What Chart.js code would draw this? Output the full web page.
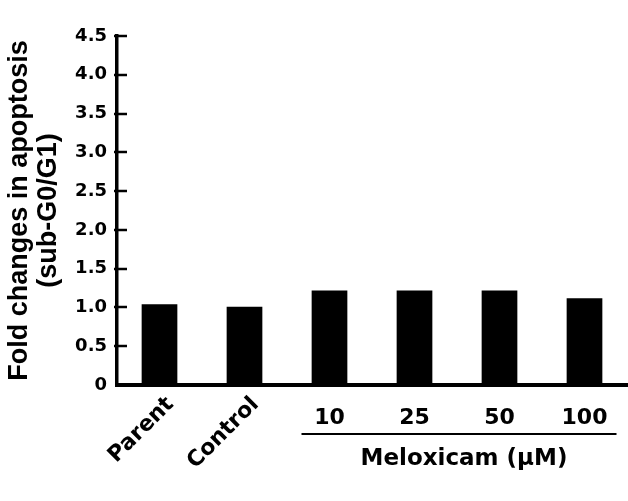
<!DOCTYPE html>
<html>
<head>
<meta charset="utf-8">
<script src="https://cdn.jsdelivr.net/npm/chart.js@4.4.1/dist/chart.umd.min.js"></script>
<style>
  body { margin: 0; background: #fff; }
  #wrap { width: 628px; height: 501px; }
</style>
</head>
<body>
<div id="wrap"><canvas id="apoptosisChart" width="628" height="501"></canvas></div>
<script>
// data
var categories = ["Parent", "Control", "10", "25", "50", "100"];
var foldChange = [1.04, 1.01, 1.22, 1.22, 1.22, 1.12];
var yTickLabels = ["0", "0.5", "1.0", "1.5", "2.0", "2.5", "3.0", "3.5", "4.0", "4.5"];
var yTitle = ["Fold changes in apoptosis", "(sub-G0/G1)"];
var groupLabel = "Meloxicam (\u03bcM)";
var groupStart = 2; // first Meloxicam dose

var tickFont = "'DejaVu Sans', sans-serif";

// draws inward y ticks, the x labels and the dose bracket
var axisExtras = {
    id: "axisExtras",
    afterDraw: function(chart) {
        var c = chart.ctx;
        var x = chart.scales.x;
        var y = chart.scales.y;
        var left = chart.chartArea.left;

        c.save();
        c.strokeStyle = "#000";
        c.lineWidth = 2.5;
        y.ticks.forEach(function(t) {
            if (t.value === 0) return;
            var py = Math.round(y.getPixelForValue(t.value));
            c.beginPath();
            c.moveTo(left - 3, py);
            c.lineTo(left + 10, py);
            c.stroke();
        });

        c.fillStyle = "#000";
        c.font = "bold 22px " + tickFont;
        categories.forEach(function(lab, i) {
            var px = x.getPixelForValue(i);
            if (i < groupStart) {
                c.save();
                c.translate(px + 11, 401);
                c.rotate(-Math.PI / 4);
                c.textAlign = "right";
                c.textBaseline = "middle";
                c.fillText(lab, 0, 0);
                c.restore();
            } else {
                c.textAlign = "center";
                c.textBaseline = "alphabetic";
                c.fillText(lab, px, 424);
            }
        });

        // bracket line under the doses
        var x0 = x.getPixelForValue(groupStart) - 28;
        var x1 = x.getPixelForValue(categories.length - 1) + 32;
        c.lineWidth = 2;
        c.beginPath();
        c.moveTo(x0, 434);
        c.lineTo(x1, 434);
        c.stroke();

        c.font = "bold 23px " + tickFont;
        c.textAlign = "center";
        c.fillText(groupLabel, (x0 + x1) / 2 + 5, 465);
        c.restore();
    }
};

var ctx = document.getElementById("apoptosisChart");

new Chart(ctx, {
    type: "bar",
    data: {
        labels: categories,
        datasets: [{
            data: foldChange,
            backgroundColor: "#000",
            borderWidth: 0,
            barPercentage: 0.42,
            categoryPercentage: 1.0
        }]
    },
    options: {
        responsive: false,
        animation: false,
        layout: {
            padding: { top: 36, right: 1, bottom: 0, left: 0 }
        },
        plugins: {
            legend: { display: false },
            tooltip: { enabled: false }
        },
        scales: {
            x: {
                grid: { display: false, drawTicks: false },
                border: { display: true, color: "#000", width: 4 },
                ticks: { display: false },
                afterFit: function(scale) { scale.height = 116; }
            },
            y: {
                min: 0,
                max: 4.5,
                grid: { display: false, drawTicks: false },
                border: { display: true, color: "#000", width: 3.5 },
                ticks: {
                    stepSize: 0.5,
                    padding: 10,
                    color: "#000",
                    font: { family: tickFont, size: 18, weight: "bold" },
                    callback: function(v, i) { return yTickLabels[i]; }
                },
                title: {
                    display: true,
                    text: yTitle,
                    color: "#000",
                    font: { family: "'Liberation Sans', Arial, sans-serif", size: 27, weight: "bold", lineHeight: 1.07 },
                    padding: { top: 5, bottom: 0 }
                },
                afterFit: function(scale) { scale.width = 117; }
            }
        }
    },
    plugins: [axisExtras]
});
</script>
</body>
</html>
